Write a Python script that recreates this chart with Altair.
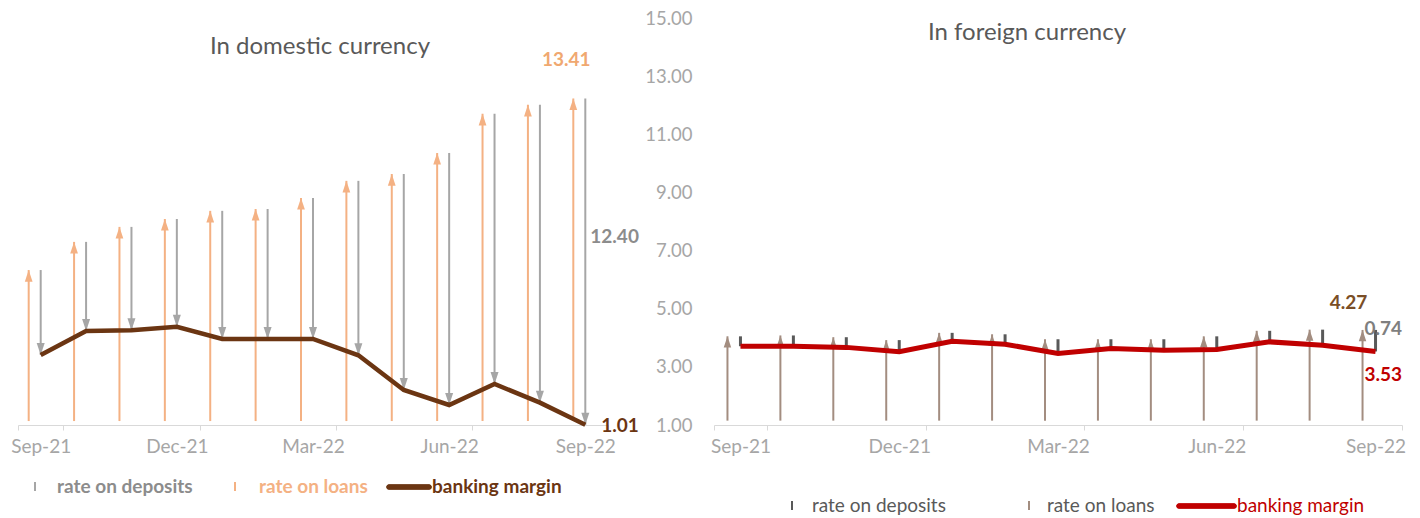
import altair as alt
import pandas as pd

# ---------------- data ----------------
months = ["Sep-21", "Oct-21", "Nov-21", "Dec-21", "Jan-22", "Feb-22", "Mar-22",
          "Apr-22", "May-22", "Jun-22", "Jul-22", "Aug-22", "Sep-22"]
tick_months = ["Sep-21", "Dec-21", "Mar-22", "Jun-22", "Sep-22"]

dom_loans = [6.89, 7.96, 8.53, 8.83, 9.14, 9.21, 9.63, 10.28, 10.54, 11.34, 12.83, 13.17, 13.41]
dom_margin = [3.66, 4.57, 4.60, 4.73, 4.27, 4.27, 4.27, 3.65, 2.33, 1.76, 2.56, 1.85, 1.01]

for_loans = [4.05, 4.08, 4.02, 3.92, 4.17, 4.12, 3.95, 3.95, 3.95, 4.05, 4.24, 4.28, 4.27]
for_margin = [3.71, 3.71, 3.67, 3.52, 3.88, 3.78, 3.46, 3.63, 3.57, 3.60, 3.86, 3.74, 3.53]

y_ticks = [1, 3, 5, 7, 9, 11, 13, 15]
BASE = 1.15  # arrow origin (just above axis floor)

FONT = "Lato"
ORANGE = "#F4B183"
ORANGE_TXT = "#F0A870"
GREY = "#A6A6A6"
GREY_TXT = "#8C8C8C"
BROWN = "#6B3512"
TAUPE = "#A38D80"
DGREY = "#595959"
RED = "#C00000"
AXIS_LBL = "#A6A6A6"

UP = "M0,0L-1,3L1,3Z"
DOWN = "M0,0L-1,-3L1,-3Z"

H = 407
W1, W2 = 590, 688

dom = pd.DataFrame({"month": months, "loans": dom_loans, "margin": dom_margin})
dom["base"] = BASE
fx = pd.DataFrame({"month": months, "loans": for_loans, "margin": for_margin})
fx["base"] = BASE


def xenc():
    return alt.X("month:N", sort=months,
                 scale=alt.Scale(domain=months, paddingInner=0, paddingOuter=0),
                 axis=alt.Axis(values=tick_months, tickBand="extent", labelAngle=0, title=None,
                               domainColor="#D9D9D9", tickColor="#D9D9D9", tickSize=5,
                               labelColor=AXIS_LBL, labelFont=FONT, labelFontSize=19,
                               labelPadding=7, grid=False))


# ---------------- left panel ----------------
ys_left = alt.Scale(domain=[1, 16.47], nice=False, zero=False)
yl = lambda f: alt.Y(f, scale=ys_left, axis=None)

lb = alt.Chart(dom)
loan_shaft = lb.mark_rule(color=ORANGE, strokeWidth=2, xOffset=-12).encode(
    x=xenc(), y=yl("base:Q"), y2="loans:Q")
loan_head = lb.mark_point(shape=UP, filled=True, size=60, color=ORANGE, opacity=1,
                          strokeWidth=0, xOffset=-12).encode(x=xenc(), y=yl("loans:Q"))
dep_shaft = lb.mark_rule(color=GREY, strokeWidth=2).encode(
    x=xenc(), y=yl("loans:Q"), y2="margin:Q")
dep_head = lb.mark_point(shape=DOWN, filled=True, size=64, color=GREY, opacity=1,
                         strokeWidth=0).encode(x=xenc(), y=yl("margin:Q"))
mline = lb.mark_line(color=BROWN, strokeWidth=4.5).encode(x=xenc(), y=yl("margin:Q"))

last_dom = lb.transform_filter(alt.datum.month == "Sep-22").transform_calculate(
    dep="datum.loans - datum.margin")
lbl_loan = last_dom.mark_text(font=FONT, fontSize=19, fontWeight="bold", color=ORANGE_TXT,
                              dx=-19, dy=-39).encode(
    x=xenc(), y=yl("loans:Q"), text=alt.Text("loans:Q", format=".2f"))
lbl_dep = last_dom.mark_text(font=FONT, fontSize=19, fontWeight="bold", color=GREY_TXT,
                             align="left", dx=5, dy=138).encode(
    x=xenc(), y=yl("loans:Q"), text=alt.Text("dep:Q", format=".2f"))
lbl_mar = last_dom.mark_text(font=FONT, fontSize=19, fontWeight="bold", color=BROWN,
                             align="left", dx=16, dy=1).encode(
    x=xenc(), y=yl("margin:Q"), text=alt.Text("margin:Q", format=".2f"))

title_l = alt.Chart(pd.DataFrame({"t": ["In domestic currency"]})).mark_text(
    font=FONT, fontSize=24, color=DGREY).encode(
    x=alt.value(302), y=alt.value(29), text="t:N")

# legend (left)
leg_l_txt = pd.DataFrame({
    "t": ["rate on deposits", "rate on loans", "banking margin"],
    "x": [39, 241, 414],
    "c": [GREY_TXT, ORANGE, BROWN],
})
leg_l_text = alt.Chart(leg_l_txt).mark_text(font=FONT, fontSize=19, fontWeight="bold",
                                           align="left", baseline="middle").encode(
    x=alt.X("x:Q", scale=None), y=alt.value(469), text="t:N",
    color=alt.Color("c:N", scale=None))
leg_l_m1 = alt.Chart(leg_l_txt).mark_rule(color=GREY, strokeWidth=2).encode(
    x=alt.value(17), y=alt.value(464), y2=alt.value(473))
leg_l_m2 = alt.Chart(leg_l_txt).mark_rule(color=ORANGE, strokeWidth=2).encode(
    x=alt.value(217), y=alt.value(464), y2=alt.value(473))
leg_l_m3 = alt.Chart(leg_l_txt).mark_rule(color=BROWN, strokeWidth=5, strokeCap="round").encode(
    x=alt.value(371), x2=alt.value(411), y=alt.value(469))

left = alt.layer(loan_shaft, loan_head, dep_shaft, dep_head, mline,
                 lbl_loan, lbl_dep, lbl_mar, title_l,
                 leg_l_text, leg_l_m1, leg_l_m2, leg_l_m3).properties(width=W1, height=H)

# ---------------- right panel ----------------
ys_right = alt.Scale(domain=[1, 15], nice=False, zero=False)
yaxis_r = alt.Axis(values=y_ticks, format=".2f", labelColor=AXIS_LBL, labelFont=FONT,
                   labelFontSize=18.5, domain=False, ticks=False, grid=False,
                   labelPadding=22, title=None)
yr = lambda f: alt.Y(f, scale=ys_right, axis=yaxis_r)

rb = alt.Chart(fx)
r_loan_shaft = rb.mark_rule(color=TAUPE, strokeWidth=2, xOffset=-13).encode(
    x=xenc(), y=yr("base:Q"), y2="loans:Q")
r_loan_head = rb.mark_point(shape=UP, filled=True, size=56, color=TAUPE, opacity=1,
                            strokeWidth=0, xOffset=-13).encode(x=xenc(), y=yr("loans:Q"))
r_dep = rb.mark_rule(color=DGREY, strokeWidth=3).encode(
    x=xenc(), y=yr("loans:Q"), y2="margin:Q")
r_line = rb.mark_line(color=RED, strokeWidth=5).encode(x=xenc(), y=yr("margin:Q"))

last_fx = rb.transform_filter(alt.datum.month == "Sep-22").transform_calculate(
    dep="datum.loans - datum.margin")
r_lbl_loan = last_fx.mark_text(font=FONT, fontSize=19, fontWeight="bold", color="#7A4E26",
                               dx=-27, dy=-27).encode(
    x=xenc(), y=yr("loans:Q"), text=alt.Text("loans:Q", format=".2f"))
r_lbl_dep = last_fx.mark_text(font=FONT, fontSize=19, fontWeight="bold", color="#7F7F7F",
                              align="left", dx=-11, dy=-1).encode(
    x=xenc(), y=yr("loans:Q"), text=alt.Text("dep:Q", format=".2f"))
r_lbl_mar = last_fx.mark_text(font=FONT, fontSize=19, fontWeight="bold", color=RED,
                              align="left", dx=-11, dy=24).encode(
    x=xenc(), y=yr("margin:Q"), text=alt.Text("margin:Q", format=".2f"))

title_r = alt.Chart(pd.DataFrame({"t": ["In foreign currency"]})).mark_text(
    font=FONT, fontSize=24, color=DGREY).encode(
    x=alt.value(313), y=alt.value(15), text="t:N")

leg_r_txt = pd.DataFrame({
    "t": ["rate on deposits", "rate on loans", "banking margin"],
    "x": [98, 333, 523],
    "c": [DGREY, DGREY, RED],
})
leg_r_text = alt.Chart(leg_r_txt).mark_text(font=FONT, fontSize=19,
                                           align="left", baseline="middle").encode(
    x=alt.X("x:Q", scale=None), y=alt.value(488), text="t:N",
    color=alt.Color("c:N", scale=None))
leg_r_m1 = alt.Chart(leg_r_txt).mark_rule(color=DGREY, strokeWidth=2).encode(
    x=alt.value(78), y=alt.value(483), y2=alt.value(492))
leg_r_m2 = alt.Chart(leg_r_txt).mark_rule(color=TAUPE, strokeWidth=2).encode(
    x=alt.value(315), y=alt.value(483), y2=alt.value(492))
leg_r_m3 = alt.Chart(leg_r_txt).mark_rule(color=RED, strokeWidth=5, strokeCap="round").encode(
    x=alt.value(465), x2=alt.value(520), y=alt.value(488))

right = alt.layer(r_loan_shaft, r_loan_head, r_dep, r_line,
                  r_lbl_loan, r_lbl_dep, r_lbl_mar, title_r,
                  leg_r_text, leg_r_m1, leg_r_m2, leg_r_m3).properties(width=W2, height=H)

chart = alt.hconcat(left, right, spacing=106, bounds="flush").resolve_scale(
    y="independent").properties(
    padding={"left": 2, "top": 1, "right": 0, "bottom": 0},
    background="white"
).configure_view(strokeWidth=0, stroke="transparent")

chart.save("out.html", embed_options={"renderer": "svg", "actions": False})
